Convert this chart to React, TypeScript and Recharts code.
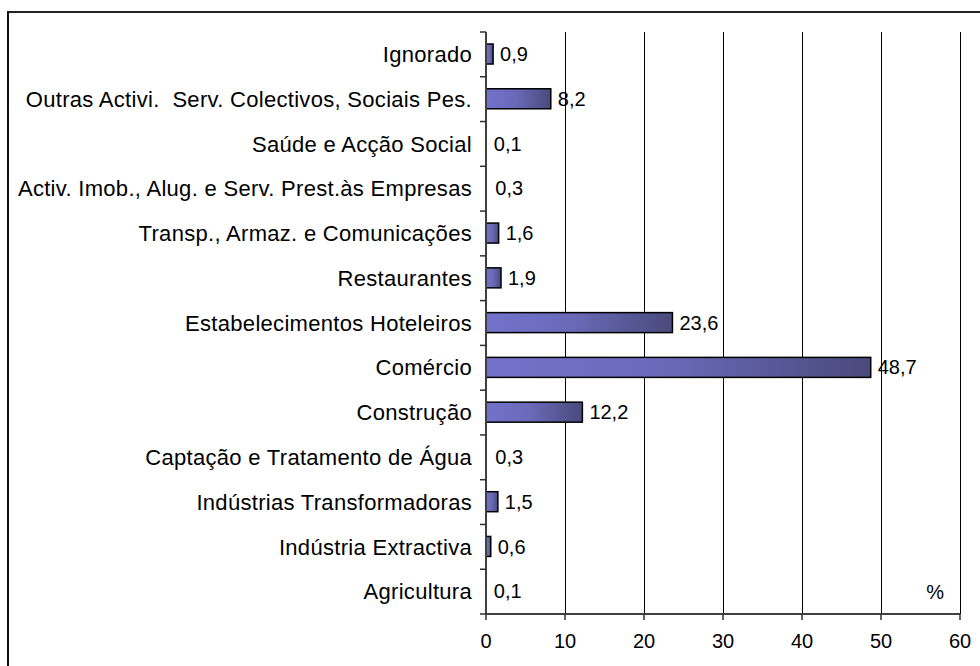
import React from 'react';
import { BarChart, Bar, XAxis, YAxis, CartesianGrid, LabelList, ReferenceDot } from 'recharts';

const categories: string[] = [
  'Ignorado',
  'Outras Activi.  Serv. Colectivos, Sociais Pes.',
  'Saúde e Acção Social',
  'Activ. Imob., Alug. e Serv. Prest.às Empresas',
  'Transp., Armaz. e Comunicações',
  'Restaurantes',
  'Estabelecimentos Hoteleiros',
  'Comércio',
  'Construção',
  'Captação e Tratamento de Água',
  'Indústrias Transformadoras',
  'Indústria Extractiva',
  'Agricultura',
];
const values: number[] = [0.9, 8.2, 0.1, 0.3, 1.6, 1.9, 23.6, 48.7, 12.2, 0.3, 1.5, 0.6, 0.1];
const xTicks: number[] = [0, 10, 20, 30, 40, 50, 60];
const unitLabel = '%';

const data = categories.map((c, i) => ({ name: c, value: values[i] }));

const FONT = '"Liberation Sans", Arial, sans-serif';
const FS = 20;

const YTick = (props: any) => {
  const { x, y, payload } = props;
  const half = typeof payload?.offset === 'number' && payload.offset > 0 ? payload.offset : 22.4;
  const ax = x + 14;
  const isLast = payload.value === categories[categories.length - 1];
  return (
    <g>
      <line x1={ax - 6} x2={ax} y1={y - half} y2={y - half} stroke="#303030" strokeWidth={1.5} />
      {isLast && <line x1={ax - 6} x2={ax} y1={y + half} y2={y + half} stroke="#303030" strokeWidth={1.5} />}
      <text
        x={x}
        y={y}
        dy="0.35em"
        textAnchor="end"
        fontSize={22}
        letterSpacing={0.3}
        fontFamily={FONT}
        fill="#000"
        style={{ whiteSpace: 'pre' }}
      >
        {payload.value}
      </text>
    </g>
  );
};

const BarShape = (p: any) => {
  const { x, y, width, height } = p;
  if (!(width >= 3)) return <g />;
  return (
    <rect x={x} y={y} width={width} height={height} fill="url(#barGrad)" stroke="#000" strokeWidth={1.5} />
  );
};

const fmt = (v: any) => String(v).replace('.', ',');

export default function App() {
  return (
    <div style={{ position: 'fixed', left: 0, top: 0, width: 980, height: 666, overflow: 'hidden', background: '#fff' }}>
      <div
        style={{
          position: 'absolute',
          left: 7,
          top: 11,
          width: 3000,
          height: 3000,
          borderTop: '2px solid #222',
          borderLeft: '2px solid #111',
        }}
      />
      <div style={{ position: 'absolute', left: 0, top: 0 }}>
        <BarChart
          width={980}
          height={666}
          data={data}
          layout="vertical"
          margin={{ top: 32, right: 20, bottom: 22, left: 0 }}
          barSize={20}
        >
          <defs>
            <linearGradient id="barGrad" x1="0" y1="0" x2="1" y2="0">
              <stop offset="0%" stopColor="#7272cc" />
              <stop offset="45%" stopColor="#6a6aba" />
              <stop offset="100%" stopColor="#4a4a7c" />
            </linearGradient>
          </defs>
          <CartesianGrid
            horizontal={false}
            vertical={true}
            stroke="#000"
            strokeWidth={1}
            shapeRendering="crispEdges"
          />
          <XAxis
            type="number"
            dataKey="value"
            domain={[0, 60]}
            ticks={xTicks}
            interval={0}
            height={30}
            tickSize={6}
            tickMargin={14}
            axisLine={{ stroke: '#404040', strokeWidth: 2 }}
            tickLine={{ stroke: '#303030', strokeWidth: 1.5 }}
            tick={{ fontSize: FS, fontFamily: FONT, fill: '#000' }}
          />
          <XAxis
            xAxisId="top"
            orientation="top"
            type="number"
            domain={[0, 60]}
            height={0}
            tick={false}
            tickLine={false}
            axisLine={{ stroke: '#888', strokeWidth: 2 }}
          />
          <YAxis
            type="category"
            dataKey="name"
            width={486}
            tickSize={6}
            tickMargin={8}
            interval={0}
            tickLine={false}
            axisLine={{ stroke: '#404040', strokeWidth: 2 }}
            tick={<YTick />}
          />
          <YAxis
            yAxisId="right"
            orientation="right"
            width={0}
            tick={false}
            tickLine={false}
            axisLine={{ stroke: '#999', strokeWidth: 2 }}
          />
          <Bar dataKey="value" isAnimationActive={false} shape={<BarShape />}>
            <LabelList
              dataKey="value"
              position="right"
              offset={7}
              formatter={fmt}
              style={{ fontSize: FS, fontFamily: FONT, fill: '#000' }}
            />
          </Bar>
          <ReferenceDot
            x={60}
            y={categories[categories.length - 1]}
            r={0}
            fill="none"
            stroke="none"
            label={{ value: unitLabel, position: 'left', offset: 16, fontSize: FS, fontFamily: FONT, fill: '#000' }}
          />
        </BarChart>
      </div>
    </div>
  );
}
